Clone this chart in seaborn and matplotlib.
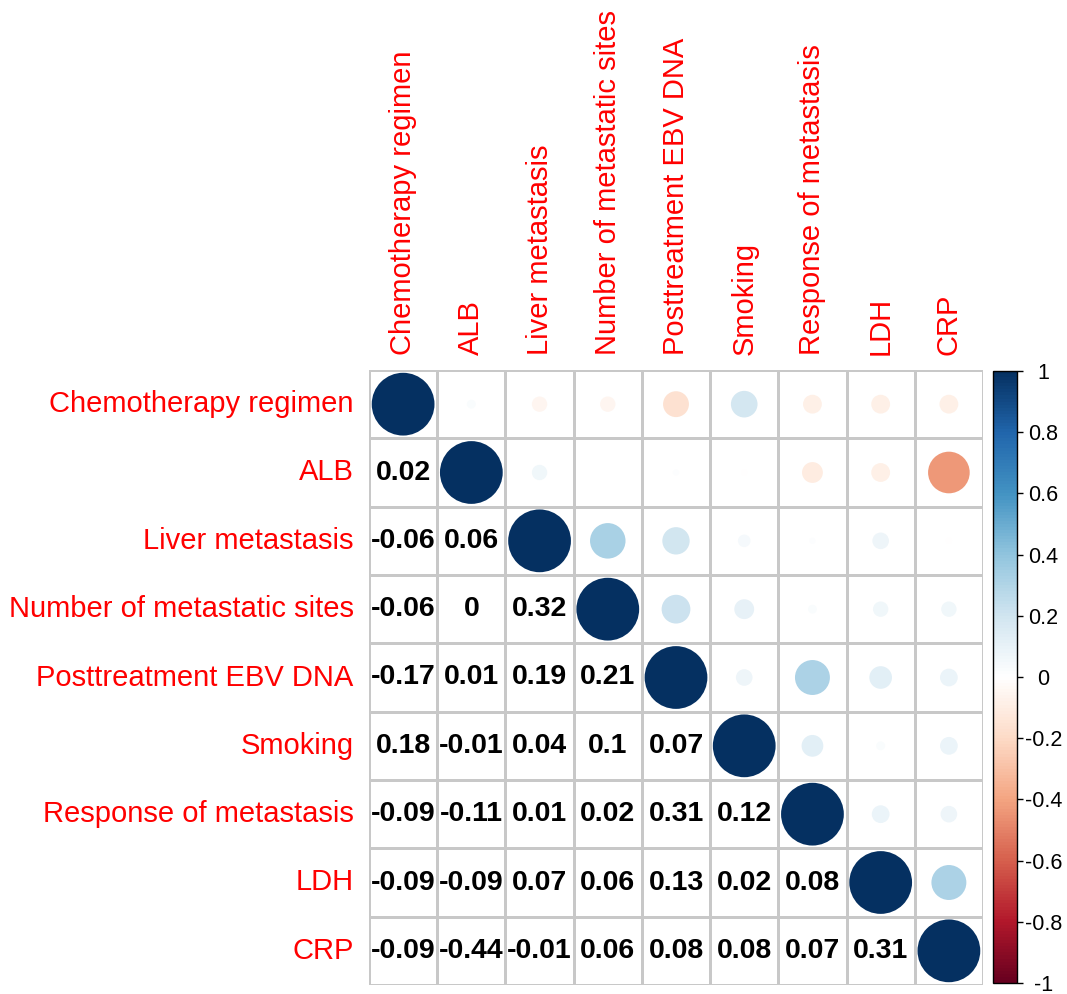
import numpy as np
import pandas as pd
import matplotlib
matplotlib.use("Agg")
import matplotlib.pyplot as plt
from matplotlib.colors import LinearSegmentedColormap, Normalize
from matplotlib.cm import ScalarMappable
import seaborn as sns

# Variables in display order
variables = [
    "Chemotherapy regimen", "ALB", "Liver metastasis",
    "Number of metastatic sites", "Posttreatment EBV DNA", "Smoking",
    "Response of metastasis", "LDH", "CRP",
]

# Lower-triangle correlation coefficients (row i, columns 0..i-1)
lower_rows = [
    [],
    [0.02],
    [-0.06, 0.06],
    [-0.06, 0.00, 0.32],
    [-0.17, 0.01, 0.19, 0.21],
    [0.18, -0.01, 0.04, 0.10, 0.07],
    [-0.09, -0.11, 0.01, 0.02, 0.31, 0.12],
    [-0.09, -0.09, 0.07, 0.06, 0.13, 0.02, 0.08],
    [-0.09, -0.44, -0.01, 0.06, 0.08, 0.08, 0.07, 0.31],
]

# Colour key ticks
key_ticks = [-1, -0.8, -0.6, -0.4, -0.2, 0, 0.2, 0.4, 0.6, 0.8, 1]
key_labels = ["-1", "-0.8", "-0.6", "-0.4", "-0.2", "0", "0.2", "0.4", "0.6", "0.8", "1"]

# Colour ramp used for coefficients from -1 to 1
rdbu_colors = ["#67001F", "#B2182B", "#D6604D", "#F4A582", "#FDDBC7",
               "#FFFFFF", "#D1E5F0", "#92C5DE", "#4393C3", "#2166AC", "#053061"]

n = len(variables)
corr = np.eye(n)
for i, row in enumerate(lower_rows):
    for j, v in enumerate(row):
        corr[i, j] = v
        corr[j, i] = v

cmap = LinearSegmentedColormap.from_list("rdbu2", rdbu_colors, N=200)

sns.set_theme(style="white")
plt.rcParams["font.family"] = ["Liberation Sans", "DejaVu Sans"]

W, H = 1067, 994
fig = plt.figure(figsize=(W / 100, H / 100), dpi=100)
ax = fig.add_axes([369 / W, 1 - 985 / H, 614 / W, 615 / H])
cax = fig.add_axes([993 / W, 1 - 983 / H, 24 / W, 612 / H])

# Blank grid with light-grey cell borders
sns.heatmap(np.zeros((n, n)), ax=ax,
            cmap=LinearSegmentedColormap.from_list("w", ["white", "white"]),
            cbar=False, linewidths=2, linecolor="#C8C8C8", square=False,
            xticklabels=variables, yticklabels=variables)
for side in ax.spines.values():
    side.set_visible(False)

# Upper triangle (incl. diagonal): circles with area proportional to |r|
recs = []
for i in range(n):
    for j in range(i, n):
        recs.append({"x": j + 0.5, "y": i + 0.5, "r": corr[i, j], "a": abs(corr[i, j])})
df = pd.DataFrame(recs)

cell_pt = (614 / n) / 100 * 72
max_area = (0.92 * cell_pt) ** 2
sns.scatterplot(data=df, x="x", y="y", hue="r", palette=cmap, hue_norm=(-1, 1),
                size="a", sizes=(0, max_area), size_norm=(0, 1),
                marker="o", linewidth=0, legend=False, ax=ax, zorder=3)

# Lower triangle: coefficient values
for i in range(n):
    for j in range(i):
        v = corr[i, j]
        txt = f"{v:g}" if v != 0 else "0"
        ax.text(j + 0.5, i + 0.5, txt, ha="center", va="center",
                fontsize=20.5, fontweight="bold", color="black", zorder=4)

ax.set_xlim(0, n)
ax.set_ylim(n, 0)
ax.set_xlabel("")
ax.set_ylabel("")
ax.xaxis.tick_top()
ax.set_xticks(np.arange(n) + 0.5)
ax.set_xticklabels(variables, rotation=90, color="red", fontsize=21)
ax.set_yticks(np.arange(n) + 0.5)
ax.set_yticklabels(variables, rotation=0, color="red", fontsize=21)
ax.tick_params(axis="both", length=0, pad=11)

# Colour key
cb = fig.colorbar(ScalarMappable(norm=Normalize(-1, 1), cmap=cmap), cax=cax)
cb.set_ticks(key_ticks)
cb.set_ticklabels(key_labels)
cax.tick_params(labelsize=15.5, length=4, width=1, color="black", labelcolor="black",
                pad=15, direction="out")
for lab in cax.get_yticklabels():
    lab.set_horizontalalignment("center")
cb.outline.set_edgecolor("black")
cb.outline.set_linewidth(1)

fig.savefig("out.png", dpi=100)
